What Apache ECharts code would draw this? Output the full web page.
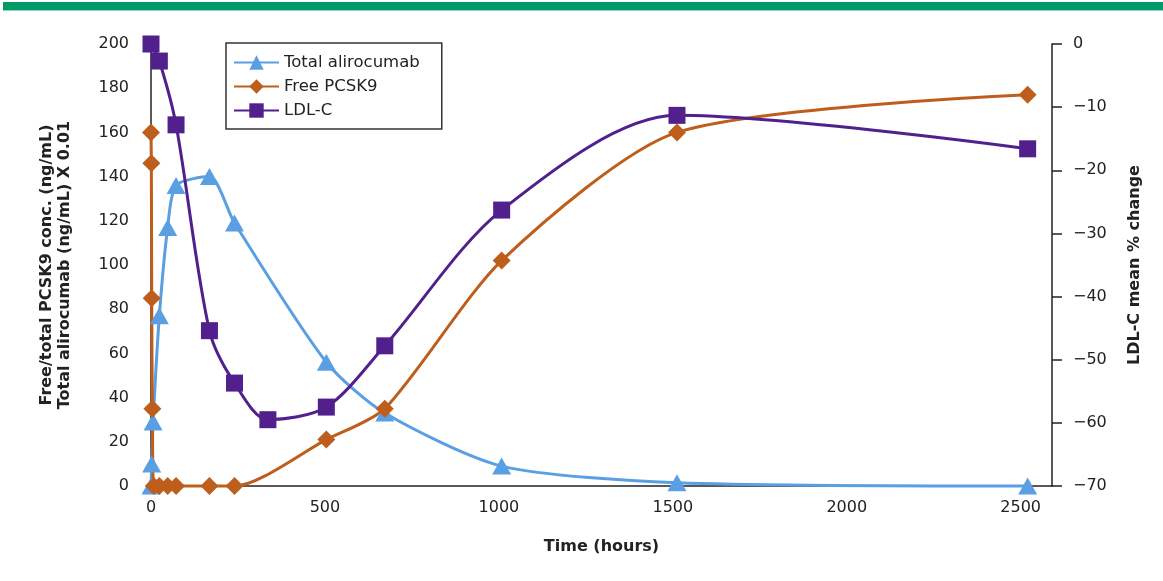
<!DOCTYPE html>
<html>
<head>
<meta charset="utf-8">
<script src="https://cdn.jsdelivr.net/npm/echarts@6/dist/echarts.min.js"></script>
<style>
  html, body { margin: 0; padding: 0; background: #fff; }
  #chart { width: 1163px; height: 581px; }
</style>
</head>
<body>
<div id="chart"></div>
<script>
// hours after dose
var totalHours = [0, 2, 6, 24, 48, 72, 168, 240, 504, 672, 1008, 1512, 2520];
var totalValues = [0, 10, 29, 77, 117, 136, 140, 119, 56, 33, 9, 1.5, 0];   // ng/mL x 0.01

var freeHours = [0, 1, 2, 4, 8, 24, 48, 72, 168, 240, 504, 672, 1008, 1512, 2520];
var freeValues = [160, 146, 85, 35, 0, 0, 0, 0, 0, 0, 21, 35, 102, 160, 177];

var ldlHours = [0, 24, 72, 168, 240, 336, 504, 672, 1008, 1512, 2520];
var ldlValues = [0, -2.7, -12.8, -45.4, -53.7, -59.5, -57.5, -47.8, -26.3, -11.3, -16.6];

var xTicks = [0, 500, 1000, 1500, 2000, 2500];

function pairs(xs, ys) {
    return xs.map(function (x, i) { return [x, ys[i]]; });
}

var chart = echarts.init(document.getElementById('chart'));
var font = 'DejaVu Sans';
var blue = '#5b9fe3', brown = '#bd5e1d', purple = '#51208c';

var option = {
    animation: false,
    textStyle: { fontFamily: font },
    graphic: [
        { type: 'rect', shape: { x: 3, y: 2, width: 1160, height: 8 }, style: { fill: '#009a6a' } },
        { type: 'rect', shape: { x: 3, y: 10, width: 1160, height: 1 }, style: { fill: '#8fd3b8' } }
    ],
    grid: { left: 151, right: 111, top: 44, bottom: 95 },
    legend: {
        orient: 'vertical',
        left: 226,
        top: 43,
        padding: [11, 22, 10, 7],
        itemWidth: 45,
        itemHeight: 18,
        itemGap: 7,
        borderColor: '#333',
        borderWidth: 1.5,
        textStyle: { fontSize: 16.5, color: '#222', fontFamily: font },
        data: ['Total alirocumab', 'Free PCSK9', 'LDL-C']
    },
    xAxis: {
        type: 'value',
        min: 0,
        max: 2590,
        interval: 500,
        name: 'Time (hours)',
        nameLocation: 'middle',
        nameGap: 53,
        nameTextStyle: { fontSize: 16, fontWeight: 'bold', color: '#222' },
        axisLine: { lineStyle: { color: '#222', width: 1.5 } },
        axisTick: { show: false },
        splitLine: { show: false },
        axisLabel: {
            fontSize: 16, color: '#222', margin: 14, showMaxLabel: false,
            formatter: function (v) { return xTicks.indexOf(v) >= 0 ? String(v) : ''; }
        }
    },
    yAxis: [{
        type: 'value',
        min: 0,
        max: 200,
        interval: 20,
        position: 'left',
        name: 'Free/total PCSK9 conc. (ng/mL)\nTotal alirocumab (ng/mL) X 0.01',
        nameLocation: 'middle',
        nameGap: 77,
        nameTextStyle: { fontSize: 16, fontWeight: 'bold', color: '#222', lineHeight: 18 },
        axisLine: { show: true, lineStyle: { color: '#222', width: 1.5 } },
        axisTick: { show: false },
        splitLine: { show: false },
        axisLabel: { fontSize: 16, color: '#222', margin: 22 }
    }, {
        type: 'value',
        min: -70,
        max: 0,
        interval: 10,
        position: 'right',
        name: 'LDL-C mean % change',
        nameLocation: 'middle',
        nameRotate: 90,
        nameGap: 75,
        nameTextStyle: { fontSize: 16, fontWeight: 'bold', color: '#222' },
        axisLine: { show: true, lineStyle: { color: '#222', width: 1.5 } },
        axisTick: { show: true, inside: false, length: 10, lineStyle: { color: '#222', width: 1.5 } },
        splitLine: { show: false },
        axisLabel: {
            fontSize: 16, color: '#222', margin: 21,
            formatter: function (v) { return String(v).replace('-', '\u2212'); }
        }
    }],
    series: [{
        name: 'Total alirocumab',
        type: 'line',
        yAxisIndex: 0,
        data: pairs(totalHours, totalValues),
        smooth: 0.25,
        clip: false,
        symbol: 'triangle',
        symbolSize: [19, 17],
        lineStyle: { color: blue, width: 3 },
        itemStyle: { color: blue }
    }, {
        name: 'Free PCSK9',
        type: 'line',
        yAxisIndex: 0,
        data: pairs(freeHours, freeValues),
        smooth: 0.25,
        clip: false,
        symbol: 'diamond',
        symbolSize: 18,
        lineStyle: { color: brown, width: 3 },
        itemStyle: { color: brown }
    }, {
        name: 'LDL-C',
        type: 'line',
        yAxisIndex: 1,
        data: pairs(ldlHours, ldlValues),
        smooth: 0.3,
        clip: false,
        symbol: 'rect',
        symbolSize: 17,
        lineStyle: { color: purple, width: 3 },
        itemStyle: { color: purple }
    }]
};

chart.setOption(option);
</script>
</body>
</html>
